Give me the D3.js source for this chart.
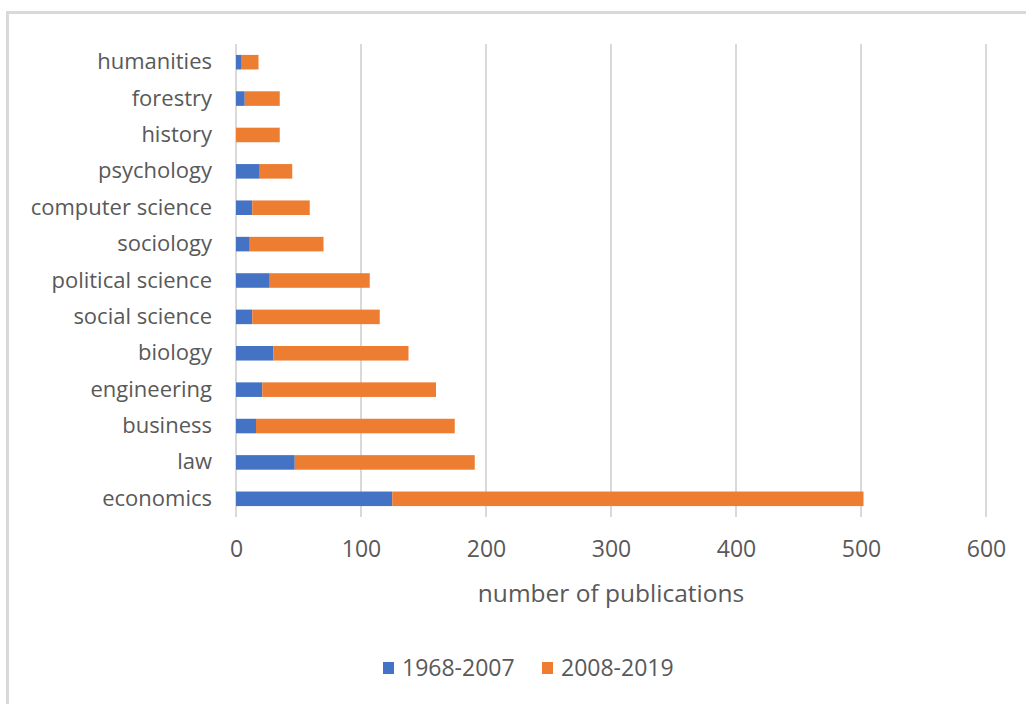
<!DOCTYPE html>
<html>
<head>
<meta charset="utf-8">
<script src="https://cdn.jsdelivr.net/npm/d3@7"></script>
<style>
  body { margin: 0; background: #fff; }
  text { font-family: "Segoe UI", "Open Sans", sans-serif; fill: #595959; }
</style>
</head>
<body>
<div id="wrapper"></div>
<script>
// categories top to bottom
const categories = ['humanities', 'forestry', 'history', 'psychology', 'computer science', 'sociology',
  'political science', 'social science', 'biology', 'engineering', 'business', 'law', 'economics'];
const early = [4, 7, 0, 19, 13, 11, 27, 13, 30, 21, 16, 47, 125];   // 1968-2007
const recent = [14, 28, 35, 26, 46, 59, 80, 102, 108, 139, 159, 144, 377]; // 2008-2019
const seriesNames = ['1968-2007', '2008-2019'];
const colors = ['#4472c4', '#ed7d31'];
const xTicks = [0, 100, 200, 300, 400, 500, 600];

const width = 1026, height = 704;
const plot = { left: 236, right: 986, top: 44, bottom: 517 };

const svg = d3.select('#wrapper').append('svg')
  .attr('width', width)
  .attr('height', height);

// chart frame (only top and left edges are visible in the crop)
svg.append('rect')
  .attr('x', 7.5).attr('y', 12.5)
  .attr('width', width + 20).attr('height', height + 20)
  .attr('fill', 'none')
  .attr('stroke', '#d9d9d9')
  .attr('stroke-width', 3);

const xScale = d3.scaleLinear().domain([0, 600]).range([plot.left, plot.right]);
const yScale = d3.scaleBand().domain(categories).range([plot.top, plot.bottom])
  .paddingInner(0.6)
  .paddingOuter(0.3);

// gridlines
svg.append('g')
  .selectAll('line')
  .data(xTicks)
  .join('line')
  .attr('x1', d => xScale(d)).attr('x2', d => xScale(d))
  .attr('y1', plot.top).attr('y2', plot.bottom)
  .attr('stroke', '#d9d9d9')
  .attr('stroke-width', 2);

const table = categories.map((c, i) => ({ cat: c, a: early[i], b: recent[i] }));
const stacked = d3.stack().keys(['a', 'b'])(table);

svg.append('g')
  .selectAll('g')
  .data(stacked)
  .join('g')
  .attr('fill', (d, i) => colors[i])
  .selectAll('rect')
  .data(d => d)
  .join('rect')
  .attr('x', d => xScale(d[0]))
  .attr('width', d => xScale(d[1]) - xScale(d[0]))
  .attr('y', d => yScale(d.data.cat))
  .attr('height', yScale.bandwidth());

// x axis labels
const xAxis = svg.append('g')
  .attr('transform', `translate(0, ${plot.bottom})`)
  .call(d3.axisBottom(xScale).tickValues(xTicks).tickSize(0).tickPadding(24));
xAxis.select('.domain').remove();
xAxis.selectAll('text')
  .style('font-size', '23px')
  .attr('fill', '#595959');

// y axis labels
const yAxis = svg.append('g')
  .attr('transform', `translate(${plot.left}, 0)`)
  .call(d3.axisLeft(yScale).tickSize(0).tickPadding(24));
yAxis.select('.domain').remove();
yAxis.selectAll('text')
  .style('font-size', '22px')
  .attr('fill', '#595959');

svg.append('text')
  .attr('x', 611).attr('y', 602)
  .attr('text-anchor', 'middle')
  .style('font-size', '24.5px')
  .text('number of publications');

// legend
const legendX = [383, 542];
const legend = svg.append('g')
  .selectAll('g')
  .data(seriesNames)
  .join('g')
  .attr('transform', (d, i) => `translate(${legendX[i]}, 668)`);
legend.append('rect')
  .attr('x', 0).attr('y', -6)
  .attr('width', 11).attr('height', 12)
  .attr('fill', (d, i) => colors[i]);
legend.append('text')
  .attr('x', 19).attr('y', 8)
  .style('font-size', '23px')
  .text(d => d);
</script>
</body>
</html>
